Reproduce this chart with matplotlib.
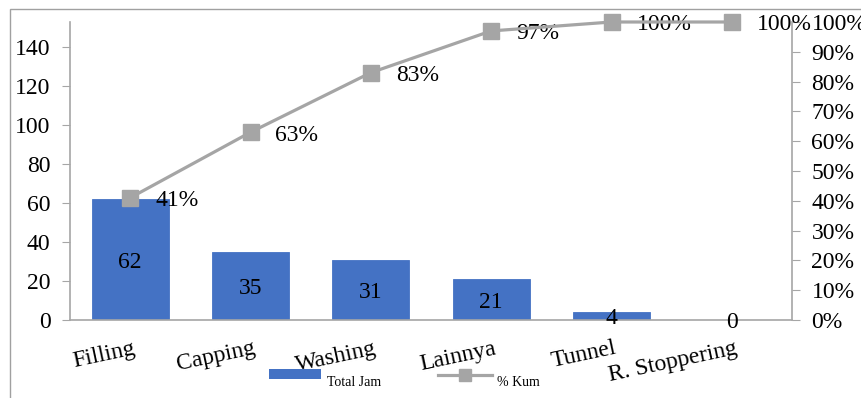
import matplotlib
matplotlib.use("Agg")
import matplotlib.pyplot as plt
import matplotlib.transforms as mtransforms
from matplotlib.lines import Line2D
from matplotlib.patches import Rectangle

plt.rcParams['font.family'] = ['Liberation Serif', 'DejaVu Serif']

categories = ["Filling", "Capping", "Washing", "Lainnya", "Tunnel", "R. Stoppering"]
total_jam = [62, 35, 31, 21, 4, 0]
pct_kum = [41, 63, 83, 97, 100, 100]
left_ticks = [0, 20, 40, 60, 80, 100, 120, 140]
right_ticks = [0, 10, 20, 30, 40, 50, 60, 70, 80, 90, 100]
legend_labels = ["Total Jam", "% Kum"]

bar_color = "#4472C4"
line_color = "#A5A5A5"
axis_color = "#A6A6A6"
W, H = 861, 398

fig = plt.figure(figsize=(W / 100, H / 100), dpi=100)
ax = fig.add_axes([70 / W, 1 - 320 / H, 722 / W, 298 / H])
ax2 = ax.twinx()

x = list(range(len(categories)))
ax.bar(x, total_jam, width=0.64, color=bar_color, edgecolor=bar_color,
       linewidth=0.6, zorder=2)
for xi, v in zip(x, total_jam):
    ax.text(xi, v / 2, str(v), ha='center', va='center_baseline', fontsize=17,
            color='black', zorder=3)

ax.set_xlim(-0.5, len(categories) - 0.5)
ax.set_ylim(0, sum(total_jam))
ax.set_yticks(left_ticks)
ax.tick_params(axis='y', labelsize=17, length=6, color=axis_color, pad=8)
ax.set_xticks(x)
ax.set_xticklabels(categories, rotation=12, ha='right', rotation_mode='anchor', fontsize=17)
ax.tick_params(axis='x', length=0, pad=13)
for s in ['top', 'right']:
    ax.spines[s].set_visible(False)
for s in ['left', 'bottom']:
    ax.spines[s].set_color(axis_color)
    ax.spines[s].set_linewidth(1.2)

offset = mtransforms.ScaledTranslation(2 / 72, 0, fig.dpi_scale_trans)
for lbl in ax.get_xticklabels():
    lbl.set_transform(lbl.get_transform() + offset)

ax2.plot(x, pct_kum, color=line_color, linewidth=2.3, marker='s', markersize=11.5,
         markerfacecolor=line_color, markeredgecolor=line_color, zorder=4, clip_on=False)
for xi, p in zip(x, pct_kum):
    ax2.annotate(f"{p}%", (xi, p), xytext=(18, -2), textcoords='offset points',
                 ha='left', va='center', fontsize=17, color='black')
ax2.set_ylim(0, 100)
ax2.set_yticks(right_ticks)
ax2.set_yticklabels([f"{t}%" for t in right_ticks])
ax2.tick_params(axis='y', labelsize=17, length=6, color=axis_color, pad=8)
for s in ['top', 'left', 'bottom']:
    ax2.spines[s].set_visible(False)
ax2.spines['right'].set_color(axis_color)
ax2.spines['right'].set_linewidth(1.2)

# legend drawn at the foot of the chart
ft = fig.transFigure
fig.patches.append(Rectangle((269 / W, 1 - 379 / H), 52 / W, 10 / H, transform=ft,
                             facecolor=bar_color, edgecolor='none'))
fig.text(327 / W, 1 - 383 / H, legend_labels[0], fontsize=10, va='center', ha='left')
fig.lines.append(Line2D([438 / W, 492 / W], [1 - 375 / H, 1 - 375 / H], transform=ft,
                        color=line_color, linewidth=2.3))
fig.lines.append(Line2D([465 / W], [1 - 375 / H], transform=ft, color=line_color,
                        marker='s', markersize=8, linestyle='none'))
fig.text(497 / W, 1 - 383 / H, legend_labels[1], fontsize=10, va='center', ha='left')

# chart area border
fig.patches.append(Rectangle((10 / W, -0.1), 1.2, 1.1 - 9 / H,
                             transform=ft, fill=False,
                             edgecolor="#A0A0A0", linewidth=1.0))

fig.savefig("out.png", dpi=100)
